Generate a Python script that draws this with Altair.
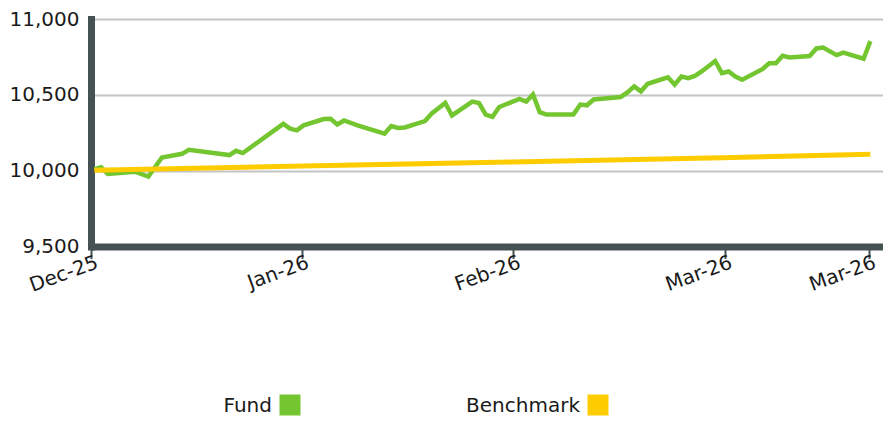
import altair as alt
import pandas as pd

# ---- data ----
fund_dates = [
    "2025-12-02", "2025-12-03", "2025-12-04", "2025-12-08", "2025-12-10", "2025-12-12",
    "2025-12-15", "2025-12-16", "2025-12-22", "2025-12-23", "2025-12-24", "2025-12-30",
    "2025-12-31", "2026-01-01", "2026-01-02", "2026-01-05", "2026-01-06", "2026-01-07",
    "2026-01-08", "2026-01-10", "2026-01-14", "2026-01-15", "2026-01-16", "2026-01-17",
    "2026-01-20", "2026-01-21", "2026-01-23", "2026-01-24", "2026-01-27", "2026-01-28",
    "2026-01-29", "2026-01-30", "2026-01-31", "2026-02-03", "2026-02-04", "2026-02-05",
    "2026-02-06", "2026-02-07", "2026-02-11", "2026-02-12", "2026-02-13", "2026-02-14",
    "2026-02-18", "2026-02-19", "2026-02-20", "2026-02-21", "2026-02-22", "2026-02-25",
    "2026-02-26", "2026-02-27", "2026-02-28", "2026-03-01", "2026-03-02", "2026-03-04",
    "2026-03-05", "2026-03-06", "2026-03-07", "2026-03-08", "2026-03-11", "2026-03-12",
    "2026-03-13", "2026-03-14", "2026-03-15", "2026-03-18", "2026-03-19", "2026-03-20",
    "2026-03-22", "2026-03-23", "2026-03-26", "2026-03-27",
]
fund_values = [
    10010, 10022, 9978, 9993, 9961, 10087,
    10111, 10137, 10103, 10131, 10116, 10309,
    10277, 10266, 10299, 10340, 10342, 10305,
    10331, 10299, 10244, 10294, 10282, 10285,
    10327, 10377, 10446, 10364, 10455, 10446,
    10370, 10355, 10420, 10473, 10455, 10503,
    10386, 10370, 10370, 10436, 10431, 10469,
    10486, 10516, 10556, 10523, 10573, 10616,
    10567, 10621, 10610, 10625, 10654, 10723,
    10643, 10654, 10621, 10599, 10669, 10708,
    10708, 10758, 10747, 10756, 10806, 10812,
    10762, 10778, 10738, 10854,
]
bench_dates = ["2025-12-02", "2026-01-02", "2026-02-02", "2026-03-05", "2026-03-27"]
bench_values = [10003, 10030, 10057, 10085, 10109]

series_names = ["Fund", "Benchmark"]
series_colors = ["#74C630", "#FFCC00"]
y_ticks = [9500, 10000, 10500, 11000]

FONT = "DejaVu Sans"
AXIS_COLOR = "#465153"
GRID_COLOR = "#C4C4C4"
TEXT_COLOR = "#1A1A1A"

fund_df = pd.DataFrame({"date": [d + "T00:00:00" for d in fund_dates],
                        "value": fund_values, "series": "Fund"})
bench_df = pd.DataFrame({"date": [d + "T00:00:00" for d in bench_dates],
                         "value": bench_values, "series": "Benchmark"})

x_ticks = [
    alt.DateTime(year=2025, month=12, date=1, hours=12),
    alt.DateTime(year=2026, month=1, date=1, hours=17),
    alt.DateTime(year=2026, month=2, date=2, hours=2),
    alt.DateTime(year=2026, month=3, date=5, hours=11),
    alt.DateTime(year=2026, month=3, date=26, hours=18),
]

x_enc = alt.X(
    "date:T",
    scale=alt.Scale(domain=[alt.DateTime(year=2025, month=12, date=1, hours=12),
                            alt.DateTime(year=2026, month=3, date=28, hours=21)]),
    axis=alt.Axis(
        values=x_ticks, format="%b-%y", title=None, grid=False,
        labelAngle=340, labelAlign="right", labelBaseline="middle",
        labelFont=FONT, labelFontSize=20, labelColor=TEXT_COLOR, labelPadding=3,
        labelOffset=6,
        tickSize=12, tickWidth=2, tickColor=AXIS_COLOR,
        domainColor=AXIS_COLOR, domainWidth=7,
        labelOverlap=False, labelFlush=False,
    ),
)
y_enc = alt.Y(
    "value:Q",
    scale=alt.Scale(domain=[9500, 11000], nice=False, zero=False),
    axis=alt.Axis(
        values=y_ticks, format=",d", title=None, ticks=False, tickSize=0,
        grid=True, gridColor=GRID_COLOR, gridWidth=2,
        labelFont=FONT, labelFontSize=20, labelColor=TEXT_COLOR, labelPadding=12,
        domainColor=AXIS_COLOR, domainWidth=7, domainCap="square",
        minExtent=83, maxExtent=83,
    ),
)

W = 792
H = 227.5

fund_line = alt.Chart(fund_df).mark_line(strokeWidth=4.5, color=series_colors[0]).encode(x=x_enc, y=y_enc)
bench_line = alt.Chart(bench_df).mark_line(strokeWidth=5, color=series_colors[1]).encode(x="date:T", y="value:Q")
main = alt.layer(fund_line, bench_line).properties(width=W, height=H)

leg_df = pd.DataFrame({"series": series_names, "color": series_colors})
leg_x = alt.X("series:N", scale=alt.Scale(type="point", domain=series_names, range=[199, 507], padding=0), axis=None)
leg_text = alt.Chart(leg_df).mark_text(align="right", baseline="middle", dx=-18,
                                       font=FONT, fontSize=20, color=TEXT_COLOR).encode(
    x=leg_x, y=alt.value(13), text="series:N")
leg_sq = alt.Chart(leg_df).mark_square(size=441, opacity=1).encode(
    x=leg_x, y=alt.value(12),
    color=alt.Color("series:N", scale=alt.Scale(domain=series_names, range=series_colors), legend=None))
legend = alt.layer(leg_sq, leg_text).properties(width=W, height=22)

chart = alt.vconcat(main, legend, spacing=97).properties(
    padding={"left": 0, "top": 1, "right": 0, "bottom": 0},
    background="white",
).configure_view(stroke=None)

chart.save("out.html", embed_options={"renderer": "svg", "actions": False})
